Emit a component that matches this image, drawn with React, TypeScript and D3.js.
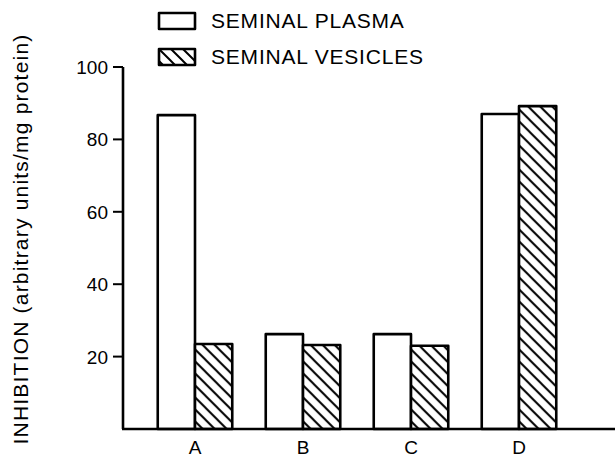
import React, { useRef, useEffect } from 'react';
import * as d3 from 'd3';

const categories = ['A', 'B', 'C', 'D'];
const seriesNames = ['SEMINAL PLASMA', 'SEMINAL VESICLES'];
const plasmaValues = [86.7, 26.2, 26.2, 87];
const vesiclesValues = [23.5, 23.2, 23, 89.2];
const yTicks = [20, 40, 60, 80, 100];

const App: React.FC = () => {
  const svgRef = useRef<SVGSVGElement>(null);
  const width = 615;
  const height = 457;

  useEffect(() => {
    const svg = d3.select(svgRef.current);
    svg.selectAll('*').remove();

    const font = '"Liberation Sans", Arial, Helvetica, sans-serif';
    const axisX = 123;
    const axisY = 429;

    // Hatch pattern (\\\ lines)
    const hs = 12;
    const defs = svg.append('defs');
    const pattern = defs
      .append('pattern')
      .attr('id', 'hatch')
      .attr('patternUnits', 'userSpaceOnUse')
      .attr('width', hs)
      .attr('height', hs);
    pattern.append('rect').attr('width', hs).attr('height', hs).attr('fill', '#fff');
    pattern
      .append('path')
      .attr(
        'd',
        `M0,0 L${hs},${hs} M${-hs / 2},${hs / 2} L${hs / 2},${hs * 1.5} M${hs / 2},${-hs / 2} L${hs * 1.5},${hs / 2}`
      )
      .attr('stroke', '#000')
      .attr('stroke-width', 2);

    const yScale = d3.scaleLinear().domain([0, 100]).range([axisY, 67]);

    const xScale = d3
      .scaleBand<string>()
      .domain(categories)
      .range([141, 573])
      .paddingInner(0.31)
      .paddingOuter(0.155);

    const xSub = d3
      .scaleBand<string>()
      .domain(seriesNames)
      .range([0, xScale.bandwidth()]);

    const rows = categories.map((c, i) => ({
      cat: c,
      values: [plasmaValues[i], vesiclesValues[i]],
    }));

    // Bars
    const groups = svg
      .selectAll('.grp')
      .data(rows)
      .enter()
      .append('g')
      .attr('transform', d => `translate(${xScale(d.cat)},0)`);

    groups
      .selectAll('rect')
      .data(d => d.values.map((v, j) => ({ v, s: seriesNames[j], j })))
      .enter()
      .append('rect')
      .attr('x', d => xSub(d.s) as number)
      .attr('y', d => yScale(d.v))
      .attr('width', xSub.bandwidth())
      .attr('height', d => axisY - yScale(d.v))
      .attr('fill', d => (d.j === 0 ? '#fff' : 'url(#hatch)'))
      .attr('stroke', '#000')
      .attr('stroke-width', 2.6)
      .attr('stroke-linejoin', 'round');

    // Y axis
    svg
      .append('line')
      .attr('x1', axisX)
      .attr('x2', axisX)
      .attr('y1', yScale(100))
      .attr('y2', axisY)
      .attr('stroke', '#000')
      .attr('stroke-width', 2.6);

    svg
      .selectAll('.ytick')
      .data(yTicks)
      .enter()
      .append('line')
      .attr('x1', axisX - 10)
      .attr('x2', axisX)
      .attr('y1', d => yScale(d))
      .attr('y2', d => yScale(d))
      .attr('stroke', '#000')
      .attr('stroke-width', 2);

    svg
      .selectAll('.ylab')
      .data(yTicks)
      .enter()
      .append('text')
      .attr('x', axisX - 15)
      .attr('y', d => yScale(d) + 7)
      .attr('text-anchor', 'end')
      .style('font-family', font)
      .style('font-size', '19px')
      .text(d => d);

    // X axis
    svg
      .append('line')
      .attr('x1', axisX - 1)
      .attr('x2', width)
      .attr('y1', axisY)
      .attr('y2', axisY)
      .attr('stroke', '#000')
      .attr('stroke-width', 2.6);

    svg
      .selectAll('.xlab')
      .data(categories)
      .enter()
      .append('text')
      .attr('x', d => (xScale(d) as number) + xScale.bandwidth() / 2)
      .attr('y', 454)
      .attr('text-anchor', 'middle')
      .style('font-family', font)
      .style('font-size', '19px')
      .text(d => d);

    // Y axis label
    svg
      .append('text')
      .attr('transform', 'rotate(-90)')
      .attr('x', -239)
      .attr('y', 28)
      .attr('text-anchor', 'middle')
      .style('font-family', font)
      .style('font-size', '21px')
      .style('letter-spacing', '1.2px')
      .text('INHIBITION (arbitrary units/mg protein)');

    // Legend
    const legend = svg
      .selectAll('.legend')
      .data(seriesNames)
      .enter()
      .append('g')
      .attr('transform', (_, i) => `translate(159, ${13 + i * 36})`);

    legend
      .append('rect')
      .attr('width', 36)
      .attr('height', 16)
      .attr('fill', (_, i) => (i === 0 ? '#fff' : 'url(#hatch)'))
      .attr('stroke', '#000')
      .attr('stroke-width', 2.6)
      .attr('stroke-linejoin', 'round');

    legend
      .append('text')
      .attr('x', 52)
      .attr('y', 15)
      .style('font-family', font)
      .style('font-size', '21px')
      .style('letter-spacing', '0.8px')
      .text(d => d);
  }, []);

  return (
    <svg
      ref={svgRef}
      width={width}
      height={height}
      style={{ position: 'absolute', left: 0, top: 0, background: '#fff' }}
    />
  );
};

export default App;
